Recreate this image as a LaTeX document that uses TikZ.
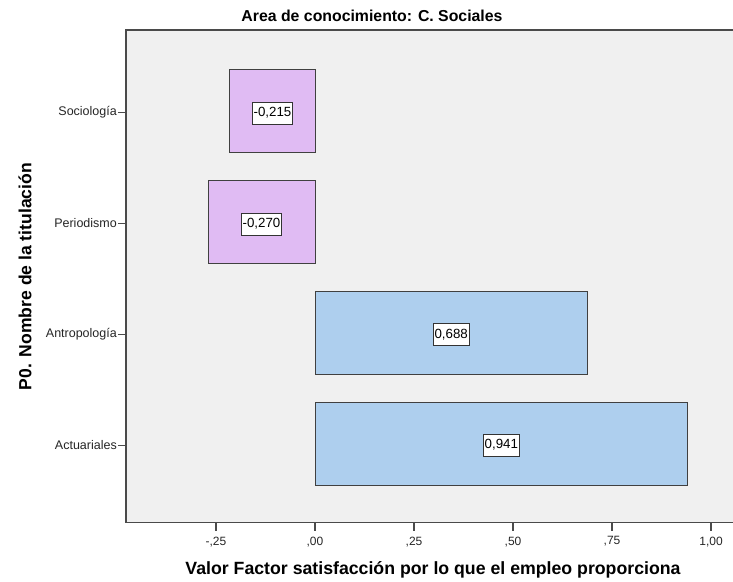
\documentclass[tikz,border=0pt]{standalone}
\usepackage{fontspec}
\setmainfont{Liberation Sans}
\definecolor{plotbg}{HTML}{F0F0F0}
\definecolor{purpbar}{HTML}{E0BBF3}
\definecolor{bluebar}{HTML}{AECFEE}
\definecolor{framecol}{HTML}{4A4A4A}
\begin{document}
\begin{tikzpicture}[x=1pt,y=-1pt,
  frame/.style={draw=framecol, line width=1.4pt},
  barneg/.style={draw=black!75, line width=0.9pt, fill=purpbar},
  barpos/.style={draw=black!75, line width=0.9pt, fill=bluebar},
  vlabel/.style={draw=black!80, line width=0.8pt, fill=white, font=\fontsize{13.3}{15}\selectfont, inner xsep=1.5pt, inner ysep=0pt, minimum height=22pt},
  cat/.style={anchor=east, font=\fontsize{12.5}{14}\selectfont, text=black!85, inner sep=1pt},
  tickmark/.style={draw=framecol, line width=1.1pt},
  ticklab/.style={font=\fontsize{12}{14}\selectfont, text=black!85, inner sep=0pt},
  ]
\useasboundingbox (0,0) rectangle (733,581);
\fill[white] (0,0) rectangle (733,581);
\begin{scope}
  \clip (0,0) rectangle (733,581);
  \fill[plotbg] (126,30) rectangle (760,522.5);
  \draw[frame] (760,30) -- (126,30) -- (126,522.5) -- (760,522.5);
\end{scope}

% title
\node (title) at (372,16) {\resizebox{261pt}{!}{\bfseries Area de conocimiento: C. Sociales}};

% bars (x = 315 + 396 v)
\draw[barneg] (315,69.5) rectangle (229.9,152.5);
\draw[barneg] (315,180.5) rectangle (208.1,263.5);
\draw[barpos] (315,291.5) rectangle (587.4,374.5);
\draw[barpos] (315,402.5) rectangle (687.6,485.5);

% value labels
\node[vlabel] (v1) at (272.5,113) {-0,215};
\node[vlabel] (v2) at (261.5,224) {-0,270};
\node[vlabel] (v3) at (451.2,334.5) {0,688};
\node[vlabel] (v4) at (501.3,445) {0,941};

% category axis
\foreach \y/\lab/\nm in {112.5/Sociología/c1, 223.5/Periodismo/c2, 334.5/Antropología/c3, 445.5/Actuariales/c4}{
  \coordinate (\nm t) at (126,\y);
  \draw[tickmark] (\nm t) -- ++(-8,0) coordinate (\nm e);
  \node[cat] (\nm) at (\nm e) {\lab};
}
\node[rotate=90] (ytitle) at (25,276.5) {\resizebox{227pt}{!}{\bfseries P0. Nombre de la titulación}};

% value axis
\foreach \x/\lab/\nm in {216/{-,25}/t1, 315/{,00}/t2, 414/{,25}/t3, 513/{,50}/t4, 612/{,75}/t5, 711/{1,00}/t6}{
  \coordinate (\nm a) at (\x,522.5);
  \draw[tickmark] (\nm a) -- ++(0,8) coordinate (\nm b);
  \node[ticklab, anchor=north] (\nm) at ([yshift=-6pt]\nm b) {\lab};
}
\node (xtitle) at (433,570) {\resizebox{495pt}{!}{\bfseries Valor Factor satisfacción por lo que el empleo proporciona}};
\end{tikzpicture}
\end{document}
